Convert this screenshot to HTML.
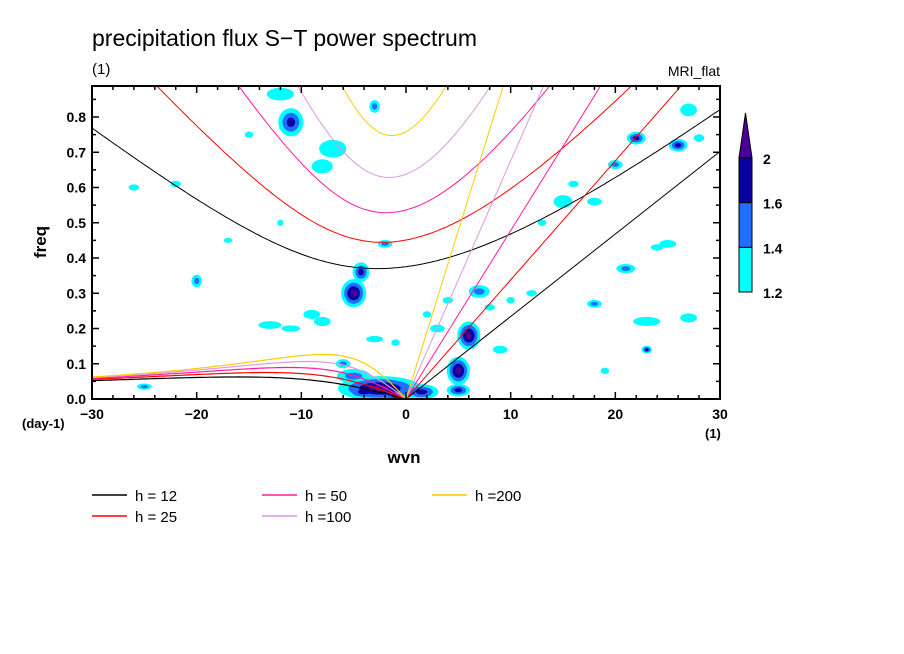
<!DOCTYPE html>
<html><head><meta charset="utf-8"><style>
body{margin:0;background:#fff;}
svg{display:block;font-family:"Liberation Sans",sans-serif;}
</style></head><body>
<svg id="chart" width="904" height="654" viewBox="0 0 904 654">
<rect width="904" height="654" fill="#fff"/>
<text x="92" y="46" font-size="23">precipitation flux S−T power spectrum</text>
<text x="92" y="74" font-size="15">(1)</text>
<text x="720" y="76" font-size="14" text-anchor="end">MRI_flat</text>
<defs><clipPath id="pc"><rect x="92" y="86" width="628" height="313"/></clipPath></defs>
<g id="blobs" clip-path="url(#pc)"></g>
<g id="curves" clip-path="url(#pc)"></g>
<g id="axes"></g>
<text x="46" y="242" font-size="17" font-weight="bold" text-anchor="middle" transform="rotate(-90 46 242)">freq</text>
<text x="404" y="463" font-size="17" font-weight="bold" text-anchor="middle">wvn</text>
<text x="22" y="428" font-size="13" font-weight="bold">(day-1)</text>
<text x="705" y="438" font-size="13" font-weight="bold">(1)</text>
<g id="colorbar"></g>
<g id="legend"></g>
</svg>
<script>
const depths=[12,25,50,100,200];
const depthColors=["#000000","#ff0000","#ff1aa0","#dd99dd","#ffcc00"];
const xTicks=[-30,-20,-10,0,10,20,30];
const yTicks=[0,0.1,0.2,0.3,0.4,0.5,0.6,0.7,0.8];
const yTickLabels=["0.0","0.1","0.2","0.3","0.4","0.5","0.6","0.7","0.8"];
const levelLabels=["1.2","1.4","1.6","2"];
const levelColors=["#00ffff","#1e6eff","#0a00a0","#4b0096"];
// blobs: [wavenumber, freq, k-radius, f-radius, level count]
const blobK=[-2.5,-5,1.5,-4,-1,5,5,6,7,-5,-4.3,-11,22,26,21,18,23,20,13,-12,-3,-7,-8,27,15,23,27,-13,-9,-8,-6,-20,-3,-11,3,9,12,16,24,18,-25,-26,-17,-22,8,10,-1,2,-2,4,28,25,19,-15,-12];
const blobF=[0.03,0.065,0.02,0.02,0.01,0.08,0.025,0.18,0.305,0.3,0.36,0.785,0.74,0.72,0.37,0.27,0.14,0.665,0.5,0.865,0.83,0.71,0.66,0.82,0.56,0.22,0.23,0.21,0.24,0.22,0.1,0.335,0.17,0.2,0.2,0.14,0.3,0.61,0.43,0.56,0.035,0.6,0.45,0.61,0.26,0.28,0.16,0.24,0.44,0.28,0.74,0.44,0.08,0.75,0.5];
const blobRK=[4,1.6,1.6,1.8,1.3,1.1,1.1,1.1,1,1.2,0.8,1.2,0.9,0.9,0.9,0.7,0.5,0.7,0.4,1.3,0.5,1.3,1,0.8,0.9,1.3,0.8,1.1,0.8,0.8,0.7,0.5,0.8,0.9,0.7,0.7,0.5,0.5,0.6,0.7,0.7,0.5,0.4,0.5,0.5,0.4,0.4,0.4,0.7,0.5,0.5,0.8,0.4,0.4,0.3];
const blobRF=[0.035,0.02,0.022,0.02,0.018,0.04,0.018,0.04,0.018,0.04,0.028,0.04,0.018,0.018,0.013,0.011,0.011,0.013,0.009,0.018,0.018,0.025,0.02,0.018,0.018,0.013,0.013,0.011,0.013,0.013,0.013,0.018,0.009,0.009,0.011,0.011,0.009,0.009,0.009,0.011,0.009,0.009,0.007,0.009,0.009,0.009,0.009,0.009,0.011,0.009,0.011,0.011,0.009,0.009,0.009];
const blobLv=[4,2,3,3,3,4,3,4,2,4,3,3,3,3,2,2,3,2,1,1,2,1,1,1,1,1,1,1,1,1,2,2,1,1,1,1,1,1,1,1,2,1,1,1,1,1,1,1,2,1,1,1,1,1,1];

const L=92,R=720,T=86,B=399,kmin=-30,kmax=30,fmax=0.8;
const xs=k=>L+(k-kmin)/(kmax-kmin)*(R-L);
const ys=f=>B-f/fmax*(B-117);
const NS="http://www.w3.org/2000/svg";
function mk(tag,attrs,parent){const e=document.createElementNS(NS,tag);for(const a in attrs)e.setAttribute(a,attrs[a]);parent.appendChild(e);return e;}

const gb=document.getElementById('blobs');
for(let lv=1;lv<=4;lv++){
  for(let i=0;i<blobK.length;i++){
    const n=blobLv[i]; if(n<lv) continue;
    const s=(n-lv+1)/n;
    const e=mk('ellipse',{cx:xs(blobK[i]),cy:ys(blobF[i]),rx:Math.max(1.5,blobRK[i]*s*(R-L)/60),ry:Math.max(1.5,blobRF[i]*s*(B-117)/fmax),fill:levelColors[lv-1]},gb);
    
    
  }
}

const beta=2.29e-11,a=6.371e6,g=9.8;
const cpd=w=>w*86400/(2*Math.PI);
function igRoot(kw,c){
  const k=kw/a, A=c*c*k*k+3*beta*c, Bq=beta*k*c*c;
  const m=2*Math.sqrt(A/3);
  let arg=3*Bq/(A*m); arg=Math.max(-1,Math.min(1,arg));
  const th=Math.acos(arg)/3;
  return m*Math.cos(th);
}
const gc=document.getElementById('curves');
depths.forEach((h,i)=>{
  const c=Math.sqrt(g*h);
  let ig=[],er=[];
  for(let kw=-30;kw<=30.001;kw+=0.25){
    ig.push([kw,cpd(igRoot(kw,c))]);
    if(kw<=0){const k=kw/a; er.push([kw,cpd(-beta*k/(k*k+3*beta/c))]);}
  }
  const path=pts=>pts.map((p,j)=>(j?'L':'M')+xs(p[0]).toFixed(1)+','+ys(p[1]).toFixed(1)).join('');
  const p1=mk('path',{d:path(ig),fill:'none',stroke:depthColors[i],'stroke-width':1},gc);
  
  
  const p2=mk('path',{d:path(er),fill:'none',stroke:depthColors[i],'stroke-width':1.2},gc);
  
  
  const kel=[[0,0],[30,cpd(c*30/a)]];
  const p3=mk('path',{d:path(kel),fill:'none',stroke:depthColors[i],'stroke-width':1},gc);
  
  
});

const ga=document.getElementById('axes');
const fr=mk('rect',{x:L,y:T,width:R-L,height:B-T,fill:'none',stroke:'#000','stroke-width':2},ga);


for(let k=-30;k<=30;k+=2){
  const maj=k%10===0, len=maj?7:4;
  mk('line',{x1:xs(k),y1:B,x2:xs(k),y2:B-len,stroke:'#000','stroke-width':1.5},ga);
  mk('line',{x1:xs(k),y1:T,x2:xs(k),y2:T+len,stroke:'#000','stroke-width':1.5},ga);
}
for(let f=0;f<=0.88;f+=0.05){
  const maj=Math.round(f*100)%10===0, len=maj?7:4;
  mk('line',{x1:L,y1:ys(f),x2:L+len,y2:ys(f),stroke:'#000','stroke-width':1.5},ga);
  mk('line',{x1:R,y1:ys(f),x2:R-len,y2:ys(f),stroke:'#000','stroke-width':1.5},ga);
}
xTicks.forEach(k=>{
  const t=mk('text',{x:xs(k),y:B+20,'font-size':14,'font-weight':'bold','text-anchor':'middle'},ga);
  t.textContent=(k<0?'−':'')+Math.abs(k);
  
  
});
yTicks.forEach((f,i)=>{
  const t=mk('text',{x:L-6,y:ys(f)+5,'font-size':14,'font-weight':'bold','text-anchor':'end'},ga);
  t.textContent=yTickLabels[i];
  
  
});

const gcb=document.getElementById('colorbar');
const cbx=739,cbw=13,boxH=44.7,cbBottom=292;
for(let i=0;i<3;i++){
  const r=mk('rect',{x:cbx,y:cbBottom-(i+1)*boxH,width:cbw,height:boxH,fill:levelColors[i],stroke:'#000','stroke-width':1},gcb);
  
  
}
const tri=mk('polygon',{points:`${cbx},${cbBottom-3*boxH} ${cbx+cbw},${cbBottom-3*boxH} ${cbx+cbw/2},113`,fill:levelColors[3],stroke:'#000','stroke-width':1},gcb);


levelLabels.forEach((lb,i)=>{
  const t=mk('text',{x:763,y:cbBottom-i*boxH+6,'font-size':14,'font-weight':'bold'},gcb);
  t.textContent=lb;
  
  
});

const gl=document.getElementById('legend');
depths.forEach((h,i)=>{
  const col=Math.floor(i/2), row=i%2;
  const x=92+col*170, y=495+row*21;
  const ln=mk('line',{x1:x,y1:y,x2:x+35,y2:y,stroke:depthColors[i],'stroke-width':1.5},gl);
  
  
  const t=mk('text',{x:x+43,y:y+6,'font-size':15},gl);
  t.textContent=h>=100?'h ='+h:'h = '+h;
  
  
});
</script>
</body></html>
